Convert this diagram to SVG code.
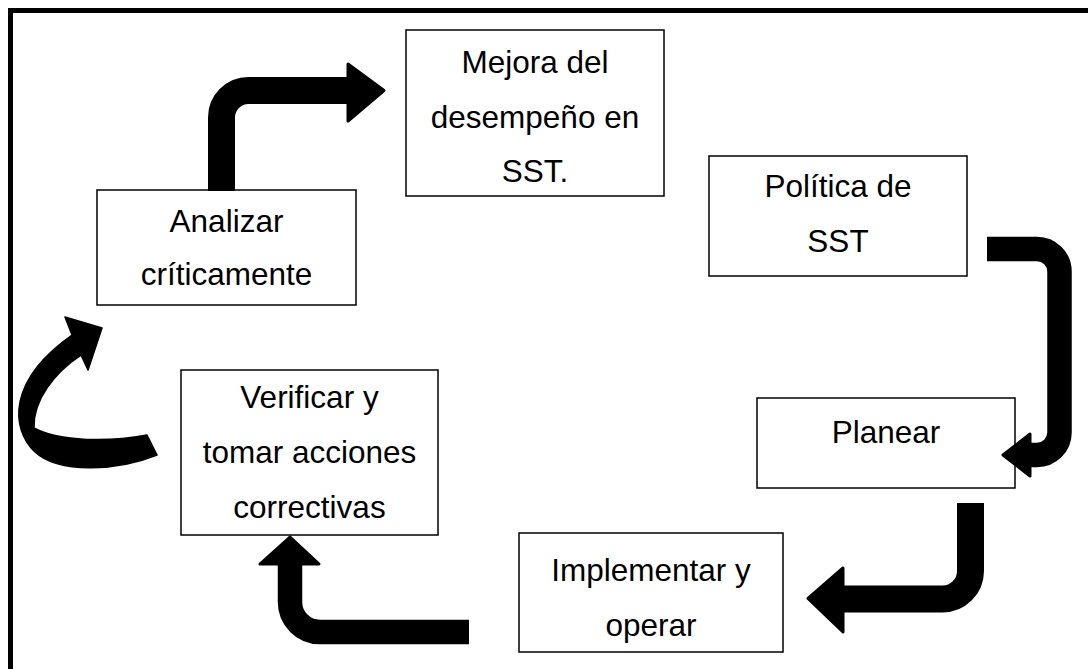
<svg xmlns="http://www.w3.org/2000/svg" width="1088" height="669" viewBox="0 0 1088 669">
<style>
.box{fill:#fff;stroke:#000;stroke-width:1.5}
.t{font-family:"Liberation Sans",Arial,sans-serif;font-size:31.5px;fill:#000;text-anchor:middle}
.shaft{fill:none;stroke:#000;stroke-linecap:butt;stroke-linejoin:round}
.head{fill:#000;stroke:#000;stroke-width:3;stroke-linejoin:round}
</style>
<rect width="1088" height="669" fill="#fff"/>
<path d="M10.5,669 V10.5 H1088" fill="none" stroke="#000" stroke-width="5"/>
<g id="node-mejora">
<rect class="box" x="406" y="30" width="258" height="166"/>
<text class="t" x="535" y="73">Mejora del</text>
<text class="t" x="535" y="127.5">desempeño en</text>
<text class="t" x="535" y="182">SST.</text>
</g>
<g id="node-politica">
<rect class="box" x="709" y="156" width="258" height="120"/>
<text class="t" x="838" y="197">Política de</text>
<text class="t" x="838" y="252">SST</text>
</g>
<g id="node-analizar">
<rect class="box" x="97" y="190" width="259" height="115"/>
<text class="t" x="226.5" y="232">Analizar</text>
<text class="t" x="226.5" y="285">críticamente</text>
</g>
<g id="node-verificar">
<rect class="box" x="181" y="370" width="257" height="165"/>
<text class="t" x="309.5" y="408">Verificar y</text>
<text class="t" x="309.5" y="463">tomar acciones</text>
<text class="t" x="309.5" y="518">correctivas</text>
</g>
<g id="node-planear">
<rect class="box" x="757" y="398" width="258" height="90"/>
<text class="t" x="886" y="443">Planear</text>
</g>
<g id="node-implementar">
<rect class="box" x="519" y="533" width="264" height="119"/>
<text class="t" x="651" y="581">Implementar y</text>
<text class="t" x="651" y="636">operar</text>
</g>
<g id="connectors">
<path class="shaft" stroke-width="27" d="M221.5,191 V117.5 A27,27 0 0 1 248.5,90.5 H349"/>
<polygon class="head" points="348,64 384,90.5 348,121"/>
<path class="shaft" stroke-width="24.5" d="M987,249 H1037 A22.5,22.5 0 0 1 1059.5,271.5 V432.5 A22.5,22.5 0 0 1 1037,455 H1029"/>
<polygon class="head" points="1030,434 1003,455 1030,476"/>
<path class="shaft" stroke-width="27" d="M970.5,503 V571 A28,28 0 0 1 942.5,599 H842"/>
<polygon class="head" points="843,568 808,598.5 843,632"/>
<path class="shaft" stroke-width="24.5" d="M469,632 H320 A30,30 0 0 1 290,602 V563"/>
<polygon class="head" points="260,564 290,537 319,564"/>
<path d="M65,317 L102,328 L88,370 L81,355 C55,372 33,400 34,428 C60,442 110,442 147,435 L157,455 C120,470 60,475 35,452 C10,428 8,380 72,335 Z" fill="#000" stroke="#000" stroke-width="1.5" stroke-linejoin="round"/>
</g>
</svg>
